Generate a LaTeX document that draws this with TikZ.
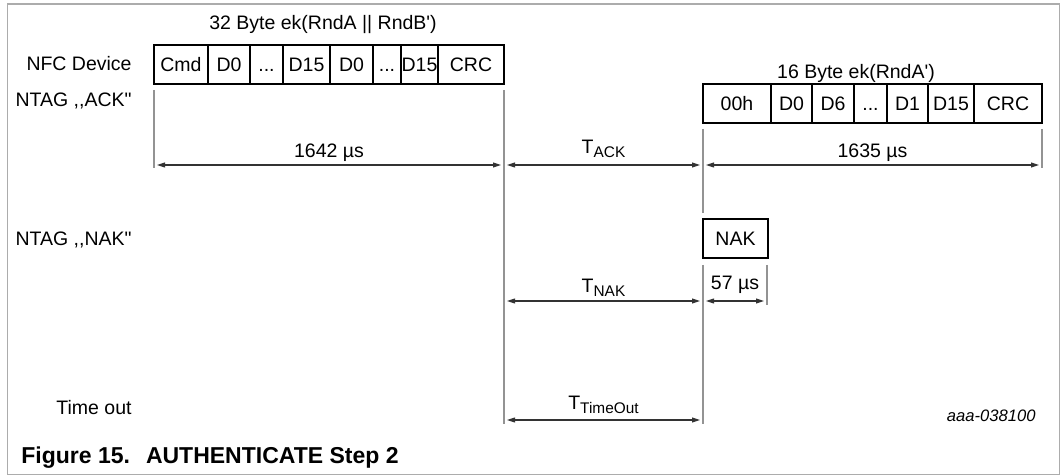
\documentclass[tikz,border=0pt]{standalone}
\usepackage{fontspec}
\newfontfamily\arial{Liberation Sans}
\usetikzlibrary{arrows.meta}

\newcommand\tlab[1]{T\raisebox{-2pt}{\fontsize{7.7}{9}\selectfont #1}}
\newcommand\dotsx{...}

\begin{document}
\begin{tikzpicture}[x=0.5pt,y=-0.5pt,
  every node/.style={font=\arial\fontsize{9.75}{11}\selectfont,inner sep=0pt},
  cell/.style={draw=black,line width=1pt},
  celltext/.style={text height=7pt,text depth=0pt},
  guide/.style={draw=gray!85,line width=0.75pt},
  dim/.style={{Triangle[length=4pt,width=2.4pt]}-{Triangle[length=4pt,width=2.4pt]},draw=black!80,line width=0.6pt,shorten <=1.5pt,shorten >=1.5pt}]
\useasboundingbox (0,0) rectangle (1062,476);
\draw[draw=gray!65,line width=0.8pt] (7.5,4) rectangle (1059.5,474.5);

% row names
\node[anchor=east] (ldev) at (132,64) {NFC Device};
\node[anchor=east] (lack) at (132,101) {NTAG ,,ACK"};
\node[anchor=east] (lnak) at (132,240) {NTAG ,,NAK"};
\node[anchor=east] (lout) at (132,408) {Time out};

% frames
\node (req) at (323,25) {32 Byte ek(RndA || RndB')};
\foreach \a/\b/\t [count=\i] in {154/208/Cmd,208/250/D0,250/283/\dotsx,283/330/D15,330/373/D0,373/401/\dotsx,401/438/D15,438/504/CRC} {
  \draw[cell] (\a,45) rectangle (\b,84);
  \node[celltext] (dev\i) at ({(\a+\b)/2},64.5) {\t};
}
\node (resp) at (856,73) {16 Byte ek(RndA')};
\foreach \a/\b/\t [count=\i] in {703/771/00h,771/812/D0,812/854/D6,854/887/\dotsx,887/928/D1,928/974/D15,974/1042/CRC} {
  \draw[cell] (\a,84) rectangle (\b,123);
  \node[celltext] (ack\i) at ({(\a+\b)/2},103.5) {\t};
}
\draw[cell] (703,219) rectangle (768,258);
\node[celltext] (nak) at (735.5,238.5) {NAK};

% time marks
\draw[guide] (154,90) -- (154,168);
\draw[guide] (504,90) -- (504,424);
\draw[guide] (703,129) -- (703,213);
\draw[guide] (703,265) -- (703,424);
\draw[guide] (767,265) -- (767,305);
\draw[guide] (1042,129) -- (1042,168);

\coordinate (s0) at (154,165); \coordinate (s1) at (504,165);
\coordinate (s2) at (703,165); \coordinate (s3) at (1042,165);
\coordinate (n1) at (504,301); \coordinate (n2) at (703,301); \coordinate (n3) at (767,301);
\coordinate (t1) at (504,420); \coordinate (t2) at (703,420);

\draw[dim] (s0) -- (s1) node [midway,above=1.5pt] {1642 µs};
\draw[dim] (s1) -- (s2) node [midway,above=3.5pt] {\tlab{ACK}};
\draw[dim] (s2) -- (s3) node [midway,above=1.5pt] {1635 µs};
\draw[dim] (n1) -- (n2) node [midway,above=2pt] {\tlab{NAK}};
\draw[dim] (n2) -- (n3) node [midway,above=3.5pt] {57 µs};
\draw[dim] (t1) -- (t2) node [midway,above=3pt] {\tlab{TimeOut}};

\node[anchor=east,font=\arial\itshape\fontsize{8.3}{10}\selectfont] (fid) at (1036,416) {aaa-038100};
\node[anchor=west,font=\arial\bfseries\fontsize{11.5}{13}\selectfont] (cap) at (21,458) {Figure 15.\hspace{8pt}AUTHENTICATE Step 2};
\end{tikzpicture}
\end{document}
